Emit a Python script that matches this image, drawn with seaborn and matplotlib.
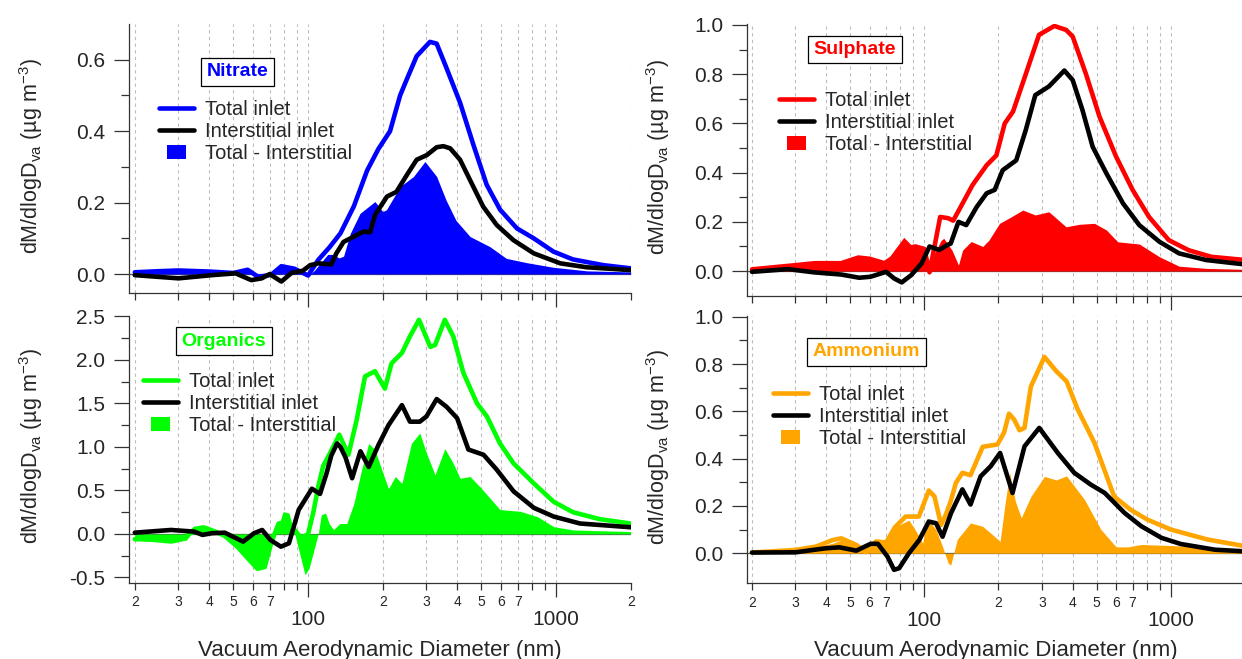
import matplotlib
matplotlib.use("Agg")
import matplotlib.pyplot as plt
import seaborn as sns
from matplotlib.ticker import FixedLocator, FixedFormatter, NullFormatter, FormatStrFormatter
from matplotlib.lines import Line2D
from matplotlib.patches import Rectangle
from matplotlib.legend_handler import HandlerPatch

# ---------------- data ----------------
nit_tot_d = [20, 25, 30, 40, 50, 57, 63, 71, 78, 88, 100, 110, 122, 135, 153, 173, 192, 214, 235, 250, 274, 310, 330, 360, 410, 465, 525, 595, 695, 813, 975, 1170, 1550, 2000]
nit_tot_v = [0.005, 0.008, 0.01, 0.007, 0.003, 0.012, -0.008, -0.002, 0.022, 0.015, -0.004, 0.04, 0.075, 0.114, 0.19, 0.29, 0.35, 0.40, 0.50, 0.545, 0.61, 0.65, 0.645, 0.58, 0.48, 0.36, 0.25, 0.18, 0.128, 0.10, 0.063, 0.041, 0.025, 0.016]
nit_int_d = [20, 30, 41, 51, 59, 65, 70, 78, 86, 95, 102, 110, 124, 130, 139, 153, 167, 178, 186, 208, 227, 250, 274, 301, 330, 351, 374, 410, 450, 508, 577, 673, 813, 1040, 1330, 2000]
nit_int_v = [-0.003, -0.012, -0.003, 0.002, -0.017, -0.012, 0.0, -0.021, 0.004, 0.009, 0.025, 0.03, 0.027, 0.058, 0.09, 0.105, 0.119, 0.117, 0.165, 0.217, 0.23, 0.277, 0.32, 0.333, 0.355, 0.358, 0.352, 0.32, 0.263, 0.189, 0.137, 0.095, 0.058, 0.03, 0.019, 0.011]
nit_dif_d = [20, 30, 40, 50, 57, 63, 71, 78, 88, 100, 106, 112, 120, 127, 133, 139, 148, 162, 186, 200, 207, 235, 266, 296, 330, 360, 395, 450, 540, 630, 760, 975, 1330, 2000]
nit_dif_v = [0.005, 0.01, 0.006, 0.002, 0.015, -0.005, 0.0, 0.025, 0.015, -0.005, 0.01, 0.03, 0.055, 0.055, 0.045, 0.05, 0.114, 0.17, 0.203, 0.175, 0.18, 0.245, 0.273, 0.315, 0.273, 0.207, 0.15, 0.105, 0.077, 0.044, 0.032, 0.019, 0.009, 0.006]

sul_tot_d = [20, 30, 36, 46, 54, 60, 69, 76, 83, 92, 100, 105, 110, 116, 125, 131, 143, 157, 179, 196, 212, 229, 258, 292, 337, 376, 400, 453, 514, 600, 700, 816, 981, 1180, 1460, 2000]
sul_tot_v = [0.007, 0.024, 0.032, 0.032, 0.055, 0.05, 0.032, 0.06, 0.09, 0.1, 0.09, -0.005, 0.1, 0.22, 0.215, 0.205, 0.275, 0.35, 0.43, 0.47, 0.60, 0.648, 0.80, 0.96, 0.996, 0.98, 0.953, 0.80, 0.627, 0.465, 0.33, 0.22, 0.126, 0.085, 0.058, 0.045]
sul_int_d = [20, 28, 35.6, 46, 54.5, 60.5, 70, 75.5, 81, 88.6, 97.5, 105, 115, 124, 128, 137.6, 148, 163, 179, 193, 208, 236, 258, 282, 320, 370, 400, 438, 482, 548, 640, 745, 900, 1080, 1390, 2000]
sul_int_v = [-0.003, 0.008, -0.005, -0.014, -0.027, -0.023, -0.003, -0.03, -0.046, -0.016, 0.031, 0.1, 0.086, 0.106, 0.112, 0.20, 0.187, 0.26, 0.316, 0.33, 0.41, 0.45, 0.573, 0.715, 0.75, 0.815, 0.776, 0.655, 0.505, 0.397, 0.275, 0.187, 0.119, 0.072, 0.045, 0.027]
sul_dif_d = [20, 30, 36, 46, 54.5, 60.5, 69, 75.5, 82.6, 88.6, 100, 103, 105.4, 110, 117, 120, 129.5, 137.6, 143, 155, 172.6, 183, 202, 225, 251, 282, 320, 376, 425, 490, 548, 609, 745, 900, 1080, 1390, 2000]
sul_dif_v = [0.007, 0.022, 0.031, 0.031, 0.058, 0.051, 0.031, 0.085, 0.137, 0.106, 0.1, 0.05, -0.007, 0.072, 0.125, 0.133, 0.085, 0.024, 0.085, 0.12, 0.1, 0.126, 0.194, 0.22, 0.248, 0.228, 0.241, 0.18, 0.19, 0.194, 0.167, 0.119, 0.11, 0.058, 0.02, 0.011, 0.007]

org_tot_d = [20, 28, 32, 35, 38, 42, 46, 52, 58, 62.5, 66.8, 71, 76, 82, 88, 94, 100, 105, 110, 115, 122.6, 133.6, 145.4, 157, 169.6, 186, 204, 217, 239, 257.5, 280, 311, 325, 356, 385, 423, 480, 526, 594, 674, 814, 978, 1170, 1500, 2000]
org_tot_v = [-0.06, -0.065, -0.04, 0.06, 0.075, 0.03, -0.02, -0.15, -0.3, -0.4, -0.38, -0.1, 0.12, 0.13, 0.05, -0.05, 0.0, 0.25, 0.55, 0.78, 0.93, 1.14, 0.91, 1.31, 1.81, 1.87, 1.67, 1.96, 2.08, 2.27, 2.46, 2.15, 2.17, 2.46, 2.27, 1.85, 1.50, 1.35, 1.04, 0.81, 0.58, 0.37, 0.25, 0.17, 0.12]
org_int_d = [20, 28, 34.7, 37.5, 40.8, 46.1, 54.7, 60.5, 65.3, 70.5, 77.7, 83.7, 91.6, 103.6, 111.7, 118.8, 124, 130.9, 135, 141.5, 150.5, 162.6, 175.5, 192, 211, 239, 257.5, 282, 300, 330, 362, 399, 443, 510, 576, 674, 814, 978, 1250, 2000]
org_int_v = [0.015, 0.046, 0.027, -0.011, 0.008, 0.015, -0.088, 0.008, 0.046, -0.07, -0.146, -0.107, 0.276, 0.52, 0.46, 0.70, 0.9, 1.04, 1.0, 0.88, 0.64, 0.95, 0.77, 1.02, 1.25, 1.48, 1.29, 1.29, 1.35, 1.55, 1.46, 1.33, 0.97, 0.91, 0.74, 0.49, 0.30, 0.20, 0.12, 0.077]
org_dif_d = [20, 28, 32.3, 34.7, 37.5, 40.8, 46.1, 52, 58, 62.5, 66.8, 73.5, 79.3, 83.7, 88.5, 97.2, 101, 110, 113, 117.6, 121.6, 126.5, 134.5, 143.2, 153, 164.4, 175.5, 186, 198, 211, 224.6, 239, 261, 282, 300, 325, 356, 385, 410, 450, 494, 594, 717, 840, 978, 1170, 2000]
org_dif_v = [-0.07, -0.107, -0.07, 0.045, 0.06, 0.027, -0.03, -0.146, -0.3, -0.41, -0.39, -0.03, 0.257, 0.24, -0.01, -0.47, -0.39, 0.008, 0.22, 0.24, 0.12, 0.05, 0.12, 0.12, 0.35, 0.74, 1.04, 0.97, 0.74, 0.52, 0.66, 0.58, 1.04, 1.16, 0.93, 0.68, 0.98, 0.81, 0.64, 0.66, 0.54, 0.28, 0.26, 0.20, 0.084, 0.046, 0.027]

amm_tot_d = [20, 30, 36.3, 42.5, 46.1, 53, 57.9, 63.7, 70, 76, 84, 95, 104.3, 110, 117, 122, 128, 134.3, 142.7, 154, 172.5, 198, 210.6, 220.6, 231.6, 243.4, 255, 270.6, 307.3, 342.9, 377.6, 419.6, 490.4, 589, 687, 804, 1002, 1410, 2000]
amm_tot_v = [0.003, 0.014, 0.028, 0.056, 0.063, 0.035, 0.005, 0.05, 0.045, 0.11, 0.155, 0.155, 0.265, 0.24, 0.12, 0.16, 0.22, 0.297, 0.34, 0.33, 0.45, 0.46, 0.51, 0.59, 0.565, 0.52, 0.53, 0.705, 0.83, 0.77, 0.727, 0.607, 0.466, 0.24, 0.184, 0.142, 0.10, 0.058, 0.03]
amm_int_d = [20, 30, 39.8, 45.3, 53, 60.6, 64.8, 70.9, 75.4, 79.1, 86.6, 95.4, 104.3, 111.6, 118.6, 128.4, 142.7, 154, 169.2, 186, 203, 228, 255, 292.7, 348, 406, 474, 539.5, 650, 760, 917, 1100, 1510, 2000]
amm_int_v = [0.003, 0.004, 0.021, 0.025, 0.011, 0.04, 0.04, -0.014, -0.07, -0.063, 0.0, 0.056, 0.134, 0.127, 0.07, 0.17, 0.27, 0.206, 0.325, 0.368, 0.424, 0.255, 0.452, 0.53, 0.424, 0.34, 0.29, 0.255, 0.17, 0.114, 0.065, 0.039, 0.015, 0.008]
amm_dif_d = [20, 30, 42.5, 46.1, 53, 57.9, 63.7, 70.9, 76.9, 86.6, 91.8, 98.5, 102.6, 111.6, 118.6, 125, 128, 136, 154, 172.5, 192.3, 203, 212, 222, 234, 247.3, 270.6, 307.3, 342.9, 377.6, 446.6, 521, 600, 670, 760, 1040, 1410, 2000]
amm_dif_v = [0.003, 0.011, 0.042, 0.056, 0.028, 0.007, 0.049, 0.063, 0.113, 0.14, 0.1, 0.042, 0.148, 0.1, 0.028, -0.042, -0.05, 0.058, 0.128, 0.114, 0.072, 0.05, 0.2, 0.34, 0.22, 0.15, 0.24, 0.325, 0.31, 0.327, 0.227, 0.10, 0.027, 0.027, 0.037, 0.032, 0.027, 0.008]

species = ["Nitrate", "Sulphate", "Organics", "Ammonium"]
colors = ["#0000FF", "#FF0000", "#00FF00", "#FFA500"]
legend_labels = ["Total inlet", "Interstitial inlet", "Total - Interstitial"]
minor_ticks = [20, 30, 40, 50, 60, 70, 80, 90, 200, 300, 400, 500, 600, 700, 800, 900, 2000]
minor_labels = ["2", "3", "4", "5", "6", "7", "", "", "2", "3", "4", "5", "6", "7", "", "", "2"]
major_ticks = [100, 1000]
major_labels = ["100", "1000"]
xlabel = "Vacuum Aerodynamic Diameter (nm)"
ylabel = r"dM/dlogD$_{\mathrm{va}}$ (µg m$^{\mathrm{-3}}$)"

# ---------------- style ----------------
sns.set_style("ticks")
plt.rcParams["font.family"] = ["Liberation Sans", "DejaVu Sans"]
plt.rcParams["mathtext.fontset"] = "custom"
plt.rcParams["mathtext.rm"] = "Liberation Sans"
plt.rcParams["mathtext.it"] = "Liberation Sans:italic"
plt.rcParams["axes.unicode_minus"] = False

W, H = 1242, 659
fig = plt.figure(figsize=(W / 100, H / 100), dpi=100)


def rect(l, t, r, b):
    return [l / W, 1 - b / H, (r - l) / W, (b - t) / H]


panels = [
    dict(data=(nit_tot_d, nit_tot_v, nit_int_d, nit_int_v, nit_dif_d, nit_dif_v),
         box=rect(128.7, 24, 630.7, 293), xlim=(18.9, 2000), ylim=(-0.053, 0.70),
         yt=[0, 0.2, 0.4, 0.6], ym=[0.1, 0.3, 0.5], leg=(159, 100), title=(237.5, 72), bottom=False, ylx=-0.167),
    dict(data=(sul_tot_d, sul_tot_v, sul_int_d, sul_int_v, sul_dif_d, sul_dif_v),
         box=rect(746.5, 24, 1245, 295.7), xlim=(19.0, 2000), ylim=(-0.10, 1.004),
         yt=[0, 0.2, 0.4, 0.6, 0.8, 1.0], ym=[0.1, 0.3, 0.5, 0.7, 0.9], leg=(779, 91), title=(855, 49.5), bottom=False, ylx=-0.149),
    dict(data=(org_tot_d, org_tot_v, org_int_d, org_int_v, org_dif_d, org_dif_v),
         box=rect(128.7, 315.5, 630.7, 582.7), xlim=(18.9, 2000), ylim=(-0.56, 2.51),
         yt=[-0.5, 0, 0.5, 1.0, 1.5, 2.0, 2.5], ym=[-0.25, 0.25, 0.75, 1.25, 1.75, 2.25], leg=(143, 372), title=(224, 341), bottom=True, ylx=-0.167),
    dict(data=(amm_tot_d, amm_tot_v, amm_int_d, amm_int_v, amm_dif_d, amm_dif_v),
         box=rect(746.5, 316, 1245, 583.3), xlim=(19.0, 2000), ylim=(-0.127, 1.003),
         yt=[0, 0.2, 0.4, 0.6, 0.8, 1.0], ym=[0.1, 0.3, 0.5, 0.7, 0.9], leg=(773, 385), title=(866.5, 352), bottom=True, ylx=-0.149),
]


def box_patch(legend, orig_handle, xdescent, ydescent, width, height, fontsize):
    rw, rh = 13.5, 9.5
    return Rectangle((-xdescent + (width - rw) / 2, -ydescent + (height - rh) / 2), rw, rh)


LW = 3.3
spine_c = "#333333"
line_kw = dict(estimator=None, sort=False, solid_joinstyle="round", solid_capstyle="round")
for p, name, c in zip(panels, species, colors):
    td, tv, idd, iv, dd, dv = p["data"]
    ax = fig.add_axes(p["box"])
    ax.set_xscale("log")
    ax.fill_between(dd, 0, dv, color=c, linewidth=0, zorder=2)
    sns.lineplot(x=td, y=tv, ax=ax, color=c, linewidth=LW, zorder=3, **line_kw)
    sns.lineplot(x=idd, y=iv, ax=ax, color="black", linewidth=LW, zorder=4, **line_kw)
    ax.axhline(0, color="#555555", linewidth=0.9, zorder=1.5)
    ax.set_xlim(*p["xlim"])
    ax.set_ylim(*p["ylim"])

    ax.xaxis.set_major_locator(FixedLocator(major_ticks))
    ax.xaxis.set_minor_locator(FixedLocator(minor_ticks))
    if p["bottom"]:
        ax.xaxis.set_major_formatter(FixedFormatter(major_labels))
        ax.xaxis.set_minor_formatter(FixedFormatter(minor_labels))
    else:
        ax.xaxis.set_major_formatter(NullFormatter())
        ax.xaxis.set_minor_formatter(NullFormatter())
    ax.yaxis.set_major_locator(FixedLocator(p["yt"]))
    ax.yaxis.set_minor_locator(FixedLocator(p["ym"]))
    ax.yaxis.set_major_formatter(FormatStrFormatter("%.1f"))

    ax.tick_params(axis="x", which="major", direction="out", length=10, width=0.9, pad=10,
                   labelsize=15, color=spine_c)
    ax.tick_params(axis="x", which="minor", direction="out", length=5, width=0.9, pad=4,
                   labelsize=10, color=spine_c)
    ax.tick_params(axis="y", which="major", direction="out", length=10.8, width=0.9, pad=6,
                   labelsize=15, color=spine_c)
    ax.tick_params(axis="y", which="minor", direction="out", length=5.8, width=0.9, color=spine_c)

    ax.xaxis.grid(True, which="both", linestyle=(0, (3, 3)), color="#bdbdbd", linewidth=0.8)
    ax.yaxis.grid(False)
    ax.set_axisbelow(True)
    for s in ["top", "right"]:
        ax.spines[s].set_visible(False)
    for s in ["left", "bottom"]:
        ax.spines[s].set_color(spine_c)
        ax.spines[s].set_linewidth(0.9)

    ax.set_ylabel(ylabel, fontsize=15.5)
    ax.yaxis.set_label_coords(p["ylx"], 0.51)
    if p["bottom"]:
        ax.set_xlabel(xlabel, fontsize=16)
        ax.xaxis.label.set_va("baseline")
        bl, bb, bw, bh = p["box"]
        ax.xaxis.set_label_coords(0.5, (bb - (1 - 656 / H)) / bh * -1)
    else:
        ax.set_xlabel("")

    handles = [Line2D([], [], color=c, linewidth=LW),
               Line2D([], [], color="black", linewidth=LW),
               Rectangle((0, 0), 1, 1, facecolor=c, edgecolor="none")]
    lx, ly = p["leg"]
    ax.legend(handles, legend_labels, loc="upper left", bbox_to_anchor=(lx / W, 1 - ly / H),
              bbox_transform=fig.transFigure, frameon=False, borderpad=0, borderaxespad=0,
              handlelength=1.75, handletextpad=0.55, labelspacing=0.15, fontsize=14.5,
              handler_map={Rectangle: HandlerPatch(patch_func=box_patch)})

    tx, ty = p["title"]
    fig.text(tx / W, 1 - ty / H, name, color=c, fontsize=14, fontweight="bold", ha="center", va="center",
             bbox=dict(boxstyle="square,pad=0.28", facecolor="white", edgecolor="black", linewidth=0.9))

fig.savefig("out.png", dpi=100)
